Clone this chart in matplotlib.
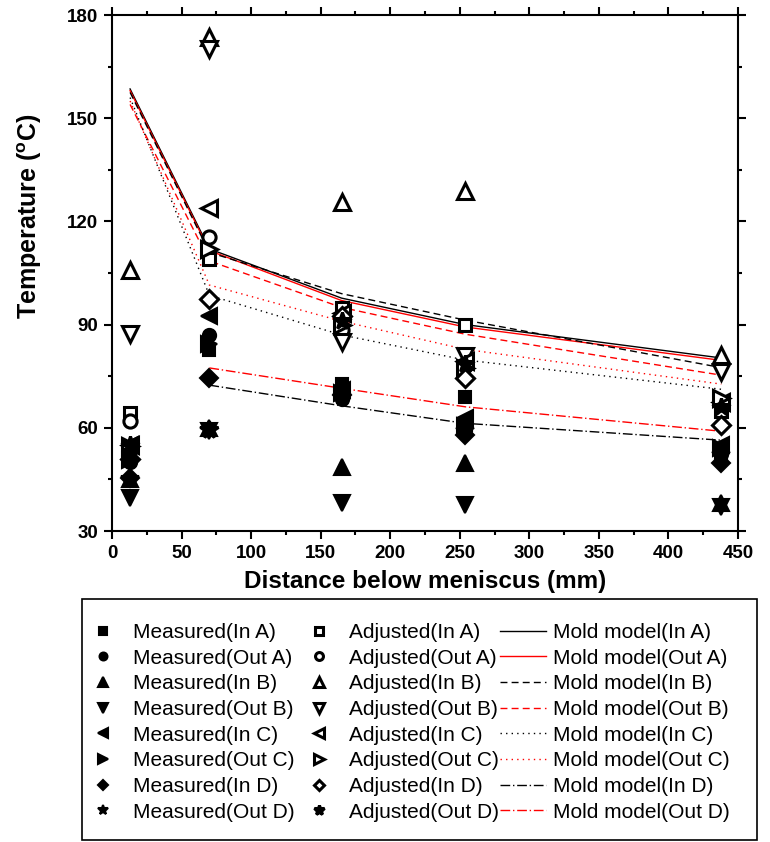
import matplotlib
matplotlib.use('Agg')
import matplotlib.pyplot as plt
from matplotlib.ticker import MultipleLocator
from matplotlib.patches import Rectangle

plt.rcParams['font.family'] = ['Liberation Sans', 'DejaVu Sans']
plt.rcParams['mathtext.default'] = 'regular'

# positions below meniscus (mm)
distance = [13, 70, 165, 254, 438]
distance_d = [70, 165, 254, 438]

# measured temperatures (filled markers)
meas_in_a = [52, 82.6, 72.7, 69, 51]
meas_out_a = [50, 87, 68.3, 59.5, 52.5]
meas_in_b = [45, 60, 48.6, 49.7, 38]
meas_out_b = [39.5, 59, 38.2, 37.5, 37]
meas_in_c = [55, 92.5, 71, 62.8, 55]
meas_out_c = [50.5, 84.5, 70, 60.5, 54]
meas_in_d = [45.5, 74.5, 69.5, 57.8, 49.7]
meas_out_d = [45, 59.5, 69, 59, 52]

# adjusted temperatures (open markers)
adj_in_a = [64.3, 109, 94.8, 89.8, 65]
adj_out_a = [62, 115.5, 88.4, 78, 67]
adj_in_b = [105.8, 173.7, 125.6, 128.7, 81.1]
adj_out_b = [87.3, 170, 85, 81, 76.2]
adj_in_c = [55, 123.8, 93.3, 79.5, 67.5]
adj_out_c = [54.6, 112, 89.8, 77.5, 68.8]
adj_in_d = [51, 97.4, 92.5, 74.4, 60.7]
adj_out_d = [55, 59.5, 91, 78.5, 66]

# mold model curves
model_in_a = [158.5, 112, 97.7, 90, 80.3]
model_out_a = [158, 111.5, 97, 89.3, 79.6]
model_in_b = [157.5, 111, 99, 91.3, 77.5]
model_out_b = [154, 108.5, 95, 87.2, 75.3]
model_in_c = [156, 98.5, 87, 79.7, 71.2]
model_out_c = [155, 101.5, 91, 82.8, 72.7]
model_in_d = [72.4, 66.4, 61.3, 56.4]
model_out_d = [77.4, 71.5, 66.1, 59]

names = ['In A', 'Out A', 'In B', 'Out B', 'In C', 'Out C', 'In D', 'Out D']
markers = ['s', 'o', '^', 'v', '<', '>', 'D', '*']
msizes = [9, 9.5, 11, 11, 11, 11, 9, 13]

fig = plt.figure(figsize=(7.7, 8.42), dpi=100)
ax = fig.add_axes([112 / 770, 1 - 531 / 842, 626 / 770, 516 / 842])

measured = [meas_in_a, meas_out_a, meas_in_b, meas_out_b,
            meas_in_c, meas_out_c, meas_in_d, meas_out_d]
adjusted = [adj_in_a, adj_out_a, adj_in_b, adj_out_b,
            adj_in_c, adj_out_c, adj_in_d, adj_out_d]
models = [model_in_a, model_out_a, model_in_b, model_out_b,
          model_in_c, model_out_c, model_in_d, model_out_d]

# line styles of the model curves: black = In, red = Out
model_colors = ['black', 'red'] * 4
model_dashes = [(None, None), (None, None), (5, 3), (5, 3),
                (1, 3), (1, 3), (7, 2, 1, 2), (7, 2, 1, 2)]

h_meas, h_adj, h_mod = [], [], []
for i, n in enumerate(names):
    l, = ax.plot(distance, measured[i], ls='none', marker=markers[i],
                 ms=msizes[i], color='black', mfc='black', mew=1.5, zorder=4,
                 label=f'Measured({n})')
    h_meas.append(l)
for i, n in enumerate(names):
    fc = 'black' if markers[i] == '*' else 'white'
    l, = ax.plot(distance, adjusted[i], ls='none', marker=markers[i],
                 ms=msizes[i], color='black', mfc=fc, mew=2.2, zorder=3,
                 label=f'Adjusted({n})')
    h_adj.append(l)
for i, n in enumerate(names):
    xs = distance_d if i >= 6 else distance
    l, = ax.plot(xs, models[i], color=model_colors[i], lw=1.0, zorder=2,
                 label=f'Mold model({n})')
    if model_dashes[i][0] is not None:
        l.set_dashes(model_dashes[i])
    h_mod.append(l)

ax.set_xlim(0, 450)
ax.set_ylim(30, 180)
ax.xaxis.set_major_locator(MultipleLocator(50))
ax.xaxis.set_minor_locator(MultipleLocator(25))
ax.yaxis.set_major_locator(MultipleLocator(30))
ax.yaxis.set_minor_locator(MultipleLocator(15))
ax.tick_params(which='both', direction='out', top=True, right=True, width=1.5,
               labelsize=13.5, pad=4)
ax.tick_params(which='major', length=6)
ax.tick_params(which='minor', length=3)
for lab in ax.get_xticklabels() + ax.get_yticklabels():
    lab.set_fontweight('bold')
for sp in ax.spines.values():
    sp.set_linewidth(1.5)

ax.set_xlabel('Distance below meniscus (mm)', fontsize=17.5, fontweight='bold',
              labelpad=6)
ax.set_ylabel('Temperature ($^{o}$C)', fontsize=18, fontweight='bold')
ax.yaxis.set_label_coords(-0.108, 0.61)

# legend box drawn separately, entries placed inside without a frame
fig.patches.append(Rectangle((82 / 770, 1 - 840 / 842), 675 / 770, 241 / 842,
                             transform=fig.transFigure, fill=False,
                             edgecolor='black', lw=1.2))
handles = h_meas + h_adj + h_mod
leg = fig.legend(handles, [h.get_label() for h in handles], ncol=3,
                 loc='upper left', bbox_to_anchor=(80 / 770, 1 - 623 / 842),
                 fontsize=15, frameon=False, markerscale=0.6,
                 handlelength=2.2, handletextpad=0.35, columnspacing=0.05,
                 labelspacing=0.32, borderpad=0, borderaxespad=0)

fig.savefig('out.png', dpi=100)
